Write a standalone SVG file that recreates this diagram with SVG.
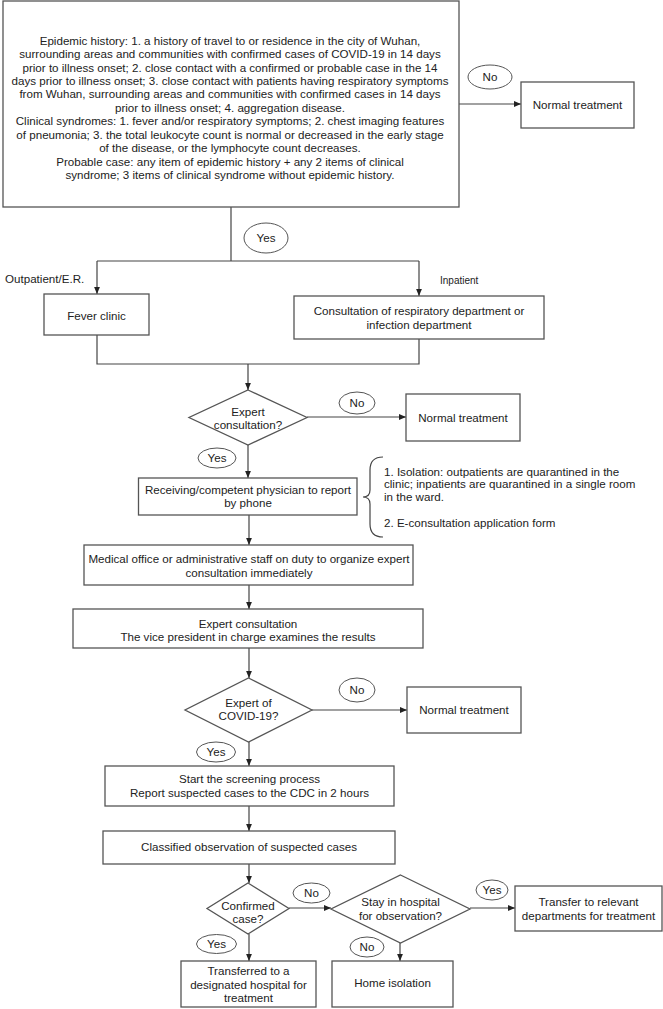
<svg xmlns="http://www.w3.org/2000/svg" width="663" height="1009" viewBox="0 0 663 1009">
<style>
text{font-family:"Liberation Sans",Arial,sans-serif;font-size:11.6px;fill:#222}
.c{text-anchor:middle}
.box{fill:#fff;stroke:#555;stroke-width:1.3}
.ell{fill:#fff;stroke:#555;stroke-width:1}
.ln{fill:none;stroke:#444;stroke-width:1.2}
.sm{font-size:10px}
</style>
<defs>
<marker id="ar" markerUnits="userSpaceOnUse" markerWidth="7" markerHeight="7" viewBox="0 0 7 7" refX="7" refY="3.5" orient="auto">
<path d="M0,0.6 L7,3.5 L0,6.4 Z" fill="#222"/>
</marker>
</defs>
<rect width="663" height="1009" fill="#fff"/>

<g id="connectors">
<line class="ln" x1="459" y1="104" x2="521" y2="104" marker-end="url(#ar)"/>
<polyline class="ln" points="231,207 231,261"/>
<polyline class="ln" points="97,261 419,261"/>
<line class="ln" x1="97" y1="261" x2="97" y2="294" marker-end="url(#ar)"/>
<line class="ln" x1="419" y1="261" x2="419" y2="296" marker-end="url(#ar)"/>
<polyline class="ln" points="97,335 97,364 419,364 419,339"/>
<line class="ln" x1="248" y1="364" x2="248" y2="390" marker-end="url(#ar)"/>
<line class="ln" x1="307" y1="417" x2="406" y2="417" marker-end="url(#ar)"/>
<line class="ln" x1="248" y1="445" x2="248" y2="478" marker-end="url(#ar)"/>
<line class="ln" x1="249" y1="515" x2="249" y2="545" marker-end="url(#ar)"/>
<line class="ln" x1="249" y1="585" x2="249" y2="609" marker-end="url(#ar)"/>
<line class="ln" x1="249" y1="648" x2="249" y2="678" marker-end="url(#ar)"/>
<line class="ln" x1="312" y1="710" x2="407" y2="710" marker-end="url(#ar)"/>
<line class="ln" x1="249" y1="742" x2="249" y2="766" marker-end="url(#ar)"/>
<line class="ln" x1="249" y1="806" x2="249" y2="831" marker-end="url(#ar)"/>
<line class="ln" x1="249" y1="864" x2="249" y2="883" marker-end="url(#ar)"/>
<line class="ln" x1="289" y1="908" x2="331" y2="908" marker-end="url(#ar)"/>
<line class="ln" x1="470" y1="908" x2="515" y2="908" marker-end="url(#ar)"/>
<line class="ln" x1="249" y1="934" x2="249" y2="961" marker-end="url(#ar)"/>
<line class="ln" x1="400" y1="943" x2="400" y2="961" marker-end="url(#ar)"/>
<path class="ln" d="M383,457 Q370,457 370,470 L370,490 Q370,497 363,497 Q370,497 370,504 L370,524 Q370,537 383,537"/>
</g>

<g id="criteria">
<rect class="box" x="3" y="1" width="456" height="206"/>
<text class="c" x="230" y="44.7">Epidemic history: 1. a history of travel to or residence in the city of Wuhan,</text>
<text class="c" x="230" y="58.1">surrounding areas and communities with confirmed cases of COVID-19 in 14 days</text>
<text class="c" x="230" y="71.6">prior to illness onset; 2. close contact with a confirmed or probable case in the 14</text>
<text class="c" x="230" y="85">days prior to illness onset; 3. close contact with patients having respiratory symptoms</text>
<text class="c" x="230" y="98.4">from Wuhan, surrounding areas and communities with confirmed cases in 14 days</text>
<text class="c" x="230" y="111.9">prior to illness onset; 4. aggregation disease.</text>
<text class="c" x="230" y="125.3">Clinical syndromes: 1. fever and/or respiratory symptoms; 2. chest imaging features</text>
<text class="c" x="230" y="138.7">of pneumonia; 3. the total leukocyte count is normal or decreased in the early stage</text>
<text class="c" x="230" y="152.1">of the disease, or the lymphocyte count decreases.</text>
<text class="c" x="230" y="165.6">Probable case: any item of epidemic history + any 2 items of clinical</text>
<text class="c" x="230" y="179">syndrome; 3 items of clinical syndrome without epidemic history.</text>
</g>

<g id="no1"><ellipse class="ell" cx="490" cy="77" rx="22" ry="12"/><text class="c" x="490" y="81">No</text></g>
<g id="normal1"><rect class="box" x="521" y="82" width="113" height="46"/><text class="c" x="577.5" y="109">Normal treatment</text></g>
<g id="yes1"><ellipse class="ell" cx="266" cy="238" rx="22" ry="15"/><text class="c" x="266" y="242">Yes</text></g>
<g id="lbl-out"><text x="5" y="283">Outpatient/E.R.</text></g>
<g id="lbl-in"><text class="sm" x="440" y="284">Inpatient</text></g>
<g id="fever"><rect class="box" x="44" y="294" width="105" height="41"/><text class="c" x="96.5" y="320">Fever clinic</text></g>
<g id="consult"><rect class="box" x="294" y="296" width="250" height="43"/>
<text class="c" x="419" y="315">Consultation of respiratory department or</text>
<text class="c" x="419" y="329">infection department</text></g>

<g id="d-expert"><polygon class="box" points="248,390 307,417.5 248,445 189,417.5"/>
<text class="c" x="248" y="415.5">Expert</text><text class="c" x="248" y="428.5">consultation?</text></g>
<g id="no2"><ellipse class="ell" cx="357" cy="403" rx="18" ry="11"/><text class="c" x="357" y="407">No</text></g>
<g id="normal2"><rect class="box" x="406" y="394" width="114" height="47"/><text class="c" x="463" y="421.5">Normal treatment</text></g>
<g id="yes2"><ellipse class="ell" cx="217" cy="458" rx="19" ry="10"/><text class="c" x="217" y="462">Yes</text></g>
<g id="report"><rect class="box" x="138.5" y="478" width="218.5" height="37"/>
<text class="c" x="248" y="494">Receiving/competent physician to report</text>
<text class="c" x="248" y="507">by phone</text></g>
<g id="notes">
<text x="384" y="475.5">1. Isolation: outpatients are quarantined in the</text>
<text x="384" y="488">clinic; inpatients are quarantined in a single room</text>
<text x="384" y="500.5">in the ward.</text>
<text x="384" y="527">2. E-consultation application form</text>
</g>
<g id="medical"><rect class="box" x="84" y="545" width="329" height="40"/>
<text class="c" x="249" y="563">Medical office or administrative staff on duty to organize expert</text>
<text class="c" x="249" y="576.5">consultation immediately</text></g>
<g id="expert"><rect class="box" x="73" y="609" width="350" height="39"/>
<text class="c" x="248" y="628">Expert consultation</text>
<text class="c" x="248" y="641">The vice president in charge examines the results</text></g>

<g id="d-covid"><polygon class="box" points="248.5,678 312,710 248.5,742 185,710"/>
<text class="c" x="248.5" y="707">Expert of</text><text class="c" x="248.5" y="720">COVID-19?</text></g>
<g id="no3"><ellipse class="ell" cx="357" cy="690" rx="18" ry="12"/><text class="c" x="357" y="694">No</text></g>
<g id="normal3"><rect class="box" x="407" y="687" width="114" height="46"/><text class="c" x="464" y="714">Normal treatment</text></g>
<g id="yes3"><ellipse class="ell" cx="216" cy="752" rx="19.5" ry="10"/><text class="c" x="216" y="756">Yes</text></g>
<g id="screening"><rect class="box" x="105" y="766" width="289" height="40"/>
<text class="c" x="249.5" y="783">Start the screening process</text>
<text class="c" x="249.5" y="797">Report suspected cases to the CDC in 2 hours</text></g>
<g id="classified"><rect class="box" x="103" y="831" width="292" height="33"/>
<text class="c" x="249" y="851">Classified observation of suspected cases</text></g>

<g id="d-confirmed"><polygon class="box" points="248,883 289,908.5 248,934 207,908.5"/>
<text class="c" x="248" y="910">Confirmed</text><text class="c" x="248" y="923">case?</text></g>
<g id="no4"><ellipse class="ell" cx="311.5" cy="893" rx="18.5" ry="10"/><text class="c" x="311.5" y="897">No</text></g>
<g id="d-stay"><polygon class="box" points="400.5,875 470,909 400.5,943 331,909"/>
<text class="c" x="400.5" y="906">Stay in hospital</text><text class="c" x="400.5" y="919.5">for observation?</text></g>
<g id="yes5"><ellipse class="ell" cx="492" cy="890" rx="16" ry="10"/><text class="c" x="492" y="894">Yes</text></g>
<g id="transfer"><rect class="box" x="515" y="886" width="147" height="45"/>
<text class="c" x="588.5" y="906">Transfer to relevant</text>
<text class="c" x="588.5" y="920">departments for treatment</text></g>
<g id="yes4"><ellipse class="ell" cx="216.5" cy="944" rx="20" ry="9.5"/><text class="c" x="216.5" y="948">Yes</text></g>
<g id="designated"><rect class="box" x="181" y="961" width="135" height="46"/>
<text class="c" x="248.5" y="975">Transferred to a</text>
<text class="c" x="248.5" y="989">designated hospital for</text>
<text class="c" x="248.5" y="1002">treatment</text></g>
<g id="no5"><ellipse class="ell" cx="367" cy="947" rx="17" ry="10"/><text class="c" x="367" y="951">No</text></g>
<g id="home"><rect class="box" x="332" y="961" width="121" height="46"/><text class="c" x="392.5" y="987">Home isolation</text></g>
</svg>
